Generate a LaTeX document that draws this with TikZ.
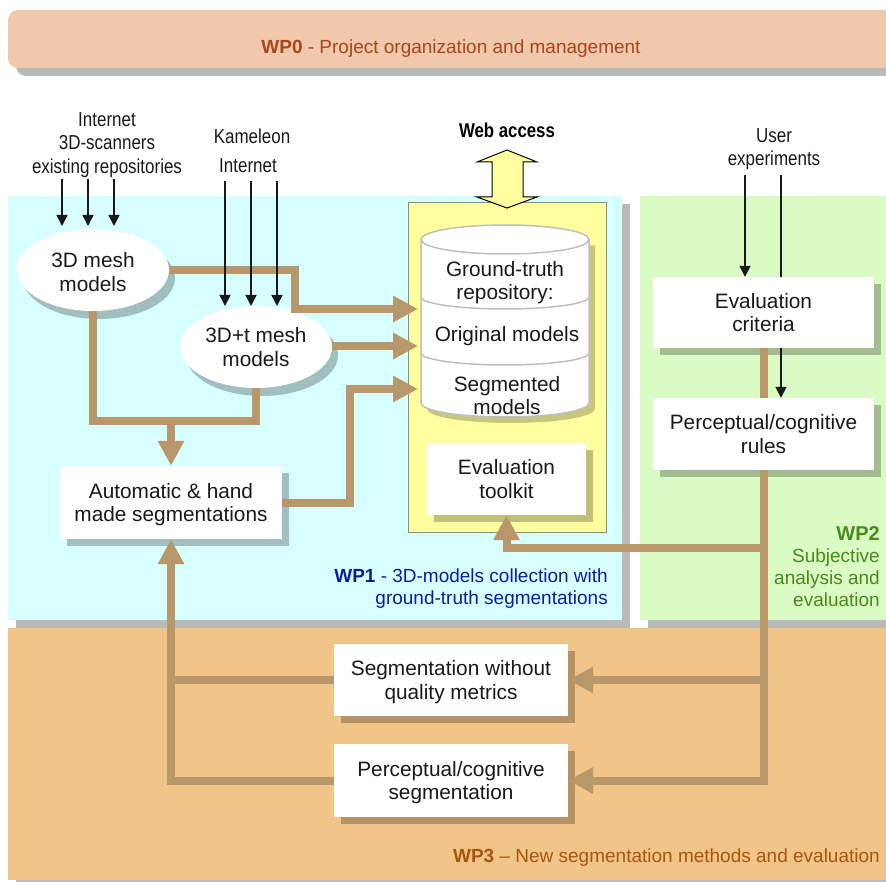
\documentclass[tikz,border=0pt]{standalone}
\usepackage{fontspec}
\setmainfont{Liberation Sans}
\newfontfamily\narrowfont[FakeStretch=0.84]{Liberation Sans}
\usetikzlibrary{arrows.meta}
\usetikzlibrary{shapes,shapes.geometric,shadows}
\definecolor{flowbrown}{HTML}{B8986A}
\definecolor{wpzero}{HTML}{F0C8AC}
\definecolor{wpone}{HTML}{D8FFFF}
\definecolor{wptwo}{HTML}{DAFBC4}
\definecolor{wpthree}{HTML}{F0C587}
\definecolor{panelyellow}{HTML}{FFFFA0}
\definecolor{zerotext}{HTML}{A5481A}
\definecolor{onetext}{HTML}{0A1E9C}
\definecolor{twotext}{HTML}{4A8A1C}
\definecolor{threetext}{HTML}{A85414}
\newcommand{\textdrop}{\rule{0pt}{19pt}}
\tikzset{
  >=Latex,
  body/.style={font=\fontsize{20.8}{23.5}\selectfont, align=center, text=black!90},
  small/.style={font=\narrowfont\fontsize{20.2}{23.5}\selectfont, align=center, text=black!90},
  wplabel/.style={font=\fontsize{19}{22}\selectfont, inner sep=0pt},
  whitebox/.style={body, fill=white, inner sep=0pt,
    drop shadow={shadow xshift=7pt, shadow yshift=-7pt, fill=black, opacity=0.25}},
  meshnode/.style={body, ellipse, fill=white, inner sep=0pt, minimum width=152pt, minimum height=82pt,
    drop shadow={shadow xshift=6pt, shadow yshift=-8pt, fill=black, opacity=0.25}},
  panel/.style={inner sep=0pt, minimum width=#1,
    drop shadow={shadow xshift=8pt, shadow yshift=-8pt, fill=black, opacity=0.27}},
  flow/.style={draw=flowbrown, line width=8pt},
  flowtip/.style={flow, -{Triangle[length=25pt,width=25pt]}},
  feed/.style={draw=black!90, line width=1.5pt, -{Triangle[length=11pt,width=11pt]}},
  cylline/.style={draw=black!25, line width=1.5pt},
}
\begin{document}
\begin{tikzpicture}[x=1pt,y=-1pt]
  \useasboundingbox (0,0) rectangle (886,882);
  % work package areas
  \fill[black,opacity=0.27] (886,18) [rounded corners=10pt] -- (16,18) -- (16,76) [sharp corners] -- (886,76) -- cycle;
  \fill[wpzero] (886,10) [rounded corners=10pt] -- (8,10) -- (8,68) [sharp corners] -- (886,68) -- cycle;
  \node[panel=614pt, fill=wpone, minimum height=424pt] (wpOne) at (315,408) {};
  \node[panel=246pt, fill=wptwo, minimum height=424pt] (wpTwo) at (763,408) {};
  \node[panel=878pt, fill=wpthree, minimum height=252pt] (wpThree) at (447,754) {};
  \node[draw=black!45, fill=panelyellow, line width=1pt, minimum width=198pt, minimum height=329pt] (toolPanel) at (507,367.5) {};
  % labels of the work packages
  \node[wplabel, text=zerotext] (wpZeroText) at (451,48.5) {\textbf{WP0} - Project organization and management};
  \node[wplabel, text=onetext, align=right, anchor=north east] (wpOneText) at (608,569) {\textbf{WP1} - 3D-models collection with\\ground-truth segmentations};
  \node[wplabel, text=twotext, align=right, anchor=north east] (wpTwoText) at (880,526.5) {\textbf{\fontsize{20}{22}\selectfont WP2}\\Subjective\\analysis and\\evaluation};
  \node[wplabel, text=threetext, anchor=east] (wpThreeText) at (880,858) {\textbf{WP3} -- New segmentation methods and evaluation};
  % repository
  \fill[black,opacity=0.22] (427,245.5) -- (427,409) arc[start angle=180,end angle=0,x radius=84,y radius=14] -- (595,245.5) -- cycle;
  \filldraw[fill=white, cylline] (421,239.5) -- (421,403) arc[start angle=180,end angle=0,x radius=84,y radius=14] -- (589,239.5) arc[start angle=0,end angle=-180,x radius=84,y radius=14.5] -- cycle;
  \draw[cylline] (421,239.5) arc[start angle=180,end angle=0,x radius=84,y radius=14.5];
  \draw[cylline] (421,297) arc[start angle=180,end angle=0,x radius=84,y radius=12];
  \draw[cylline] (421,353) arc[start angle=180,end angle=0,x radius=84,y radius=12];
  \node[body] (repoText) at (505,282.5) {Ground-truth\\repository:};
  \node[body] (origText) at (507,336.5) {Original models};
  \node[body] (segText) at (507,395.5) {Segmented\\models};
  \coordinate (repoIn) at (418,309);
  \coordinate (origIn) at (418,346);
  \coordinate (segIn) at (418,389);
  % web access
  \filldraw[fill=panelyellow, draw=black, line width=1pt] (507,150) -- (537,162) -- (523,162) -- (523,197) -- (537,197) -- (507,208) -- (477,197) -- (492,197) -- (492,162) -- (477,162) -- cycle;
  \node[font=\narrowfont\bfseries\fontsize{20}{23.5}\selectfont] (webText) at (507,130) {Web access};
  % boxes and ellipses
  \node[meshnode] (meshModels) at (93,270) {\textdrop 3D mesh\\models};
  \node[meshnode] (timeModels) at (256,347) {3D+t mesh\\models};
  \node[whitebox, minimum width=222pt, minimum height=73pt] (autoSeg) at (171,502.5) {\textdrop Automatic \& hand\\made segmentations};
  \node[whitebox, minimum width=159pt, minimum height=72pt] (evalTool) at (506.5,479) {Evaluation\\toolkit};
  \node[whitebox, minimum width=221pt, minimum height=71pt] (evalCrit) at (763.5,312.5) {Evaluation\\criteria};
  \node[whitebox, minimum width=221pt, minimum height=72pt] (percRules) at (763.5,434) {Perceptual/cognitive\\rules};
  \node[whitebox, minimum width=234pt, minimum height=72pt] (noMetric) at (451,680) {\textdrop Segmentation without\\quality metrics};
  \node[whitebox, minimum width=234pt, minimum height=73pt] (percSeg) at (451,780.5) {\textdrop Perceptual/cognitive\\segmentation};
  % source labels
  \node[small] (srcOne) at (107,145) {Internet\\3D-scanners\\existing repositories};
  \node[small] (srcTwo) at (252,136) {Kameleon};
  \node[small] (srcThree) at (248,166) {Internet};
  \node[small] (srcFour) at (774,149) {User\\experiments};
  % wide connectors
  \coordinate (meshTurn) at (295,309);
  \coordinate (segTurn) at (350,389);
  \coordinate (mergePoint) at (171,421);
  \coordinate (toolBranch) at (764,548);
  \coordinate (metricBranch) at (764,680);
  \draw[flowtip] (meshModels.east) -| (meshTurn) -- (repoIn);
  \draw[flowtip] (timeModels.east |- origIn) -- (origIn);
  \draw[flowtip] (autoSeg.east) -| (segTurn) -- (segIn);
  \draw[flow] (meshModels.south) |- (mergePoint) -| (timeModels.south);
  \draw[flowtip] (mergePoint) -- (autoSeg.north);
  \draw[flow] (evalCrit.south) -- (percRules.north);
  \draw[flowtip] (percRules.south) |- (percSeg.east);
  \draw[flowtip] (metricBranch) -- (noMetric.east);
  \draw[flowtip] (toolBranch) -| (evalTool.south);
  \draw[flowtip] (percSeg.west) -| (autoSeg.south);
  \draw[flow] (noMetric.west) -- (noMetric.west -| autoSeg.south);
  % thin connectors
  \foreach \px in {62,88,114}{
    \draw[feed] (\px,179) -- (\px,226);
  }
  \foreach \px in {225,251,277}{
    \draw[feed] (\px,181) -- (\px,306);
  }
  \coordinate (userLeft) at (745,175);
  \coordinate (userRight) at (781,175);
  \draw[feed] (userLeft) -- (userLeft |- evalCrit.north);
  \draw[draw=black!90, line width=1.5pt] (userRight) -- (userRight |- evalCrit.north);
  \draw[feed] (userRight |- evalCrit.south) -- (userRight |- percRules.north);
\end{tikzpicture}
\end{document}
